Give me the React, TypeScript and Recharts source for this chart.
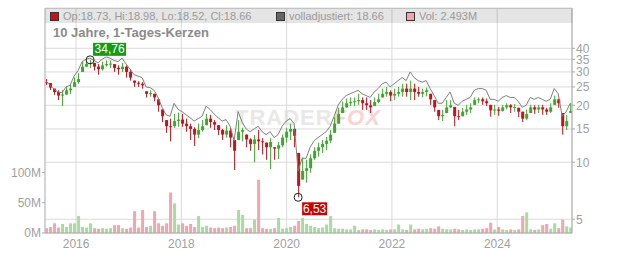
import {
  ComposedChart,
  Bar,
  Line,
  XAxis,
  YAxis,
  CartesianGrid,
  ReferenceDot,
} from "recharts";

const FONT = "'Liberation Sans', Arial, sans-serif";

// sampling grid: roughly every 4 weeks from mid 2015
const START = 2015.43;
const STEP = 0.076;

const yearTicks = [2016, 2018, 2020, 2022, 2024];
const priceTicks = [5, 10, 15, 20, 25, 30, 35, 40];
const volTicks = [0, 50, 100];

const closes = [
  26.5, 24.8, 23.5, 22.5, 22.8, 24.0, 24.5, 26.5, 27.5, 32.0,
  33.0, 33.5, 32.0, 31.0, 32.5, 33.0, 33.2, 31.5, 31.0, 32.0,
  30.0, 28.0, 26.3, 26.0, 25.5, 23.0, 23.2, 22.0, 20.0, 17.5,
  15.5, 15.5, 16.5, 16.8, 16.0, 15.5, 15.0, 14.0, 14.8, 15.5,
  17.0, 16.3, 15.8, 14.8, 14.0, 14.7, 13.5, 11.5, 14.5, 14.8,
  13.2, 12.5, 13.2, 12.9, 12.8, 12.0, 12.8, 11.8, 12.3, 13.5,
  14.5, 15.0, 13.8, 7.5, 9.0, 9.3, 10.5, 11.5, 12.0, 12.5,
  13.0, 14.0, 16.0, 18.0, 19.5, 20.5, 20.8, 21.0, 21.3, 20.5,
  20.0, 19.5, 20.8, 21.5, 23.0, 23.5, 22.5, 23.0, 23.5, 24.5,
  23.5, 24.5, 23.5, 23.0, 23.5, 24.0, 21.5, 19.5, 17.5, 17.8,
  19.5, 20.0, 17.5, 17.3, 18.5, 19.0, 19.5, 21.3, 21.5, 21.0,
  20.5, 18.8, 19.0, 18.7, 19.5, 20.0, 19.5, 19.6, 18.5, 17.0,
  18.0, 19.5, 19.0, 19.5, 19.0, 18.5, 19.5, 21.5, 20.5, 15.5,
  16.5, 18.66,
];

const lows = [
  25.6, 24.1, 22.7, 21.3, 19.8, 22.7, 23.0, 25.0, 26.0, 30.0,
  32.0, 31.5, 30.5, 29.0, 30.5, 32.0, 31.5, 30.0, 29.0, 30.0,
  28.0, 27.0, 25.0, 25.0, 24.5, 22.0, 22.2, 21.0, 18.5, 16.3,
  14.3, 12.9, 15.2, 15.4, 15.4, 14.5, 13.1, 12.2, 13.4, 14.5,
  15.7, 15.2, 14.8, 13.9, 13.1, 13.5, 12.0, 9.1, 13.1, 12.9,
  12.0, 11.5, 10.0, 11.6, 11.0, 10.3, 9.2, 10.3, 10.4, 12.0,
  12.7, 13.1, 12.0, 6.53, 8.1, 7.8, 8.8, 10.3, 10.7, 11.2,
  11.6, 12.6, 14.3, 16.0, 18.2, 19.4, 19.8, 19.8, 20.1, 18.9,
  18.9, 18.2, 19.8, 20.5, 22.0, 22.2, 21.0, 21.3, 22.2, 22.2,
  22.2, 21.3, 21.3, 22.2, 22.0, 22.3, 20.1, 18.5, 16.7, 16.5,
  18.2, 19.3, 15.5, 16.7, 17.5, 17.8, 18.2, 20.1, 20.5, 20.1,
  19.8, 17.4, 17.8, 17.6, 18.5, 19.0, 18.2, 18.5, 17.3, 16.3,
  16.7, 18.2, 18.0, 18.2, 17.8, 17.8, 18.2, 20.1, 19.4, 14.0,
  14.8, 18.2,
];

const highs = [
  27.5, 26.2, 24.5, 24.0, 24.0, 25.3, 25.6, 28.0, 29.5, 34.0,
  34.5, 34.76, 33.5, 33.0, 34.0, 34.5, 34.5, 33.0, 32.5, 33.5,
  32.5, 31.0, 27.0, 26.8, 26.5, 23.7, 24.0, 23.0, 21.5, 19.0,
  16.7, 17.0, 18.0, 18.3, 18.0, 17.0, 16.0, 15.3, 16.0, 16.7,
  18.0, 17.8, 16.7, 15.7, 15.0, 15.7, 15.2, 13.1, 16.7, 15.2,
  14.0, 13.4, 13.9, 14.8, 13.4, 12.7, 13.4, 12.0, 12.8, 14.0,
  15.2, 16.0, 15.2, 11.2, 10.6, 10.3, 11.0, 12.0, 12.7, 13.1,
  13.6, 14.8, 17.3, 19.4, 20.9, 21.7, 22.0, 22.0, 23.0, 22.0,
  22.0, 21.3, 22.0, 23.0, 24.5, 25.0, 24.0, 24.5, 25.0, 26.0,
  26.0, 27.0, 26.0, 25.0, 24.5, 24.8, 23.0, 21.3, 18.9, 18.9,
  21.3, 21.3, 19.6, 18.9, 19.4, 20.1, 20.5, 22.0, 22.0, 22.0,
  21.7, 20.1, 20.1, 19.6, 20.1, 20.5, 20.3, 20.3, 19.4, 18.5,
  19.0, 20.1, 20.0, 20.1, 20.1, 19.4, 20.5, 22.5, 21.7, 18.2,
  17.8, 20.5,
];

// "volladjustiert" line
const adjusted = [
  26.8, 25.5, 24.3, 23.5, 23.3, 25.0, 25.5, 28.5, 30.5, 34.0,
  35.0, 35.5, 34.5, 33.5, 35.0, 36.0, 35.5, 34.5, 34.0, 35.5,
  33.0, 31.0, 29.0, 28.5, 28.0, 25.0, 24.8, 24.0, 22.0, 19.5,
  17.8, 17.5, 20.5, 19.0, 18.5, 17.8, 17.2, 16.5, 17.0, 17.5,
  19.8, 19.0, 18.0, 17.2, 16.5, 16.8, 15.5, 13.0, 18.5, 16.3,
  15.0, 14.5, 15.0, 15.5, 14.5, 14.0, 14.5, 13.5, 14.0, 15.5,
  16.5, 17.0, 16.0, 9.0, 10.5, 10.5, 12.0, 13.0, 13.5, 14.0,
  14.5, 15.5, 17.5, 20.0, 21.5, 22.5, 23.0, 23.5, 24.0, 23.0,
  22.5, 22.0, 23.5, 24.5, 26.0, 26.5, 25.0, 26.0, 27.0, 28.0,
  27.0, 30.0, 28.0, 27.0, 26.5, 27.0, 24.5, 22.5, 20.5, 20.5,
  22.0, 23.5, 20.5, 20.0, 21.0, 21.5, 22.0, 24.0, 24.5, 24.5,
  24.0, 21.5, 21.5, 21.0, 22.0, 22.5, 22.0, 22.0, 21.0, 19.5,
  20.0, 22.0, 21.5, 22.0, 21.5, 21.0, 21.5, 24.5, 23.0, 17.5,
  18.5, 20.5,
];

// volume in millions
const volumes = [
  8, 10, 16, 9, 15, 10, 16, 16, 28, 10,
  9, 16, 8, 7, 8, 7, 8, 13, 13, 8,
  7, 9, 36, 9, 38, 10, 12, 36, 16, 12,
  16, 67, 49, 14, 16, 12, 15, 10, 28, 10,
  12, 9, 8, 9, 8, 9, 10, 12, 38, 30,
  8, 8, 22, 88, 8, 7, 7, 8, 25, 7,
  8, 10, 12, 20, 25, 15, 12, 10, 8, 9,
  14, 28, 8, 7, 7, 6, 6, 12, 5, 6,
  6, 5, 6, 5, 6, 5, 6, 6, 14, 6,
  5, 14, 6, 7, 6, 7, 8, 7, 11, 7,
  6, 6, 7, 6, 5, 6, 5, 6, 6, 7,
  8, 17, 6, 10, 6, 5, 6, 5, 6, 28,
  34, 6, 5, 6, 13, 15, 7, 16, 8, 22,
  11, 9,
];

const lastQuote = { op: "18.73", hi: "18.98", lo: "18.52", cl: "18.66" };
const lastAdjusted = "18.66";
const lastVolume = "2.493M";

const RED = "#c4121c";
const GREEN = "#3fa72f";
const VOL_DOWN = "#f3a5ad";
const VOL_UP = "#a8dba0";

const data = closes.map((c, i) => {
  const open = i > 0 ? closes[i - 1] : c;
  return {
    t: START + i * STEP,
    range: [lows[i], highs[i]],
    open,
    close: c,
    adj: adjusted[i],
    vol: volumes[i],
    up: c > open,
  };
});

let hiIdx = 0;
let loIdx = 0;
highs.forEach((h, i) => {
  if (h > highs[hiIdx]) hiIdx = i;
});
lows.forEach((l, i) => {
  if (l < lows[loIdx]) loIdx = i;
});

const fmt = (v: number) => v.toFixed(2).replace(".", ",");

function Candle(props: any) {
  const { x, y, width, height, payload } = props;
  if (!payload || height == null) return null;
  const [l, h] = payload.range;
  const toY = (v: number) =>
    y + (height * (Math.log(h) - Math.log(v))) / (Math.log(h) - Math.log(l));
  const color = payload.up ? GREEN : RED;
  const top = toY(Math.min(h, Math.max(payload.open, payload.close)));
  const bot = toY(Math.max(l, Math.min(payload.open, payload.close)));
  const cx = x + width / 2;
  return (
    <g>
      <line x1={cx} x2={cx} y1={y} y2={y + height} stroke={color} strokeWidth={1} />
      <rect x={x} y={top} width={width} height={Math.max(1, bot - top)} fill={color} />
    </g>
  );
}

function VolBar(props: any) {
  const { x, y, width, height, payload } = props;
  if (!payload || !height) return null;
  return <rect x={x} y={y} width={width} height={height} fill={payload.up ? VOL_UP : VOL_DOWN} />;
}

function HighMark(props: any) {
  const { cx, cy } = props;
  return (
    <g>
      <circle cx={cx} cy={cy} r={4} fill="none" stroke="#222" strokeWidth={1} />
      <rect x={cx + 3} y={cy - 17} width={33} height={13} fill="#159a15" />
      <text x={cx + 19.5} y={cy - 6.5} textAnchor="middle" fill="#fff" fontSize={12} fontFamily={FONT}>
        {fmt(highs[hiIdx])}
      </text>
    </g>
  );
}

function LowMark(props: any) {
  const { cx, cy } = props;
  return (
    <g>
      <circle cx={cx} cy={cy} r={4} fill="none" stroke="#222" strokeWidth={1} />
      <rect x={cx + 4} y={cy + 5} width={25} height={13} fill="#cc0000" />
      <text x={cx + 16.5} y={cy + 15.5} textAnchor="middle" fill="#fff" fontSize={12} fontFamily={FONT}>
        {fmt(lows[loIdx])}
      </text>
    </g>
  );
}

const tickStyle = { fill: "#a0a0a0", fontSize: 12, fontFamily: FONT };

function Swatch({ color }: { color: string }) {
  return (
    <span
      style={{
        display: "inline-block",
        width: 7,
        height: 7,
        background: color,
        border: "1px solid #333",
        marginRight: 4,
      }}
    />
  );
}

export default function App() {
  return (
    <div
      style={{
        position: "absolute",
        left: 0,
        top: 0,
        width: 632,
        height: 253,
        background: "#fff",
        fontFamily: FONT,
        overflow: "hidden",
      }}
    >
      <div
        style={{
          position: "absolute",
          left: 235,
          top: 106,
          fontSize: 22,
          fontWeight: "bold",
          letterSpacing: 1,
          lineHeight: "24px",
          whiteSpace: "nowrap",
        }}
      >
        <span style={{ color: "#e8e8e8" }}>TRADER</span>
        <span style={{ color: "#fad3d3", fontStyle: "italic" }}>FOX</span>
      </div>
      <div style={{ position: "absolute", left: 0, top: 0 }}>
        <ComposedChart
          width={632}
          height={253}
          data={data}
          margin={{ top: 8, right: 0, bottom: 0, left: 8 }}
          style={{ fontFamily: FONT }}
        >
          <CartesianGrid stroke="#dadada" yAxisId="price" />
          <XAxis
            dataKey="t"
            type="number"
            domain={[2015.41, 2025.42]}
            allowDataOverflow
            ticks={yearTicks}
            interval={0}
            tickLine={false}
            tickSize={4}
            tickMargin={2}
            axisLine={{ stroke: "#aaa" }}
            tick={tickStyle}
            height={20}
          />
          <XAxis
            xAxisId="vol"
            dataKey="t"
            type="number"
            domain={[2015.41, 2025.42]}
            allowDataOverflow
            hide
          />
          <YAxis
            yAxisId="vol"
            orientation="left"
            domain={[0, 372]}
            ticks={volTicks}
            interval={0}
            tickFormatter={(v) => `${v}M`}
            width={37}
            tickSize={3}
            tickMargin={1}
            axisLine={{ stroke: "#bbb" }}
            tickLine={{ stroke: "#aaa" }}
            tick={tickStyle}
          />
          <YAxis
            yAxisId="price"
            orientation="right"
            scale="log"
            domain={[4.23, 65.3]}
            allowDataOverflow
            ticks={priceTicks}
            interval={0}
            width={60}
            tickSize={3}
            tickMargin={1}
            axisLine={{ stroke: "#aaa" }}
            tickLine={{ stroke: "#aaa" }}
            tick={tickStyle}
          />
          <Bar
            xAxisId="vol"
            yAxisId="vol"
            dataKey="vol"
            barSize={3}
            shape={<VolBar />}
            isAnimationActive={false}
          />
          <Line
            yAxisId="price"
            dataKey="adj"
            type="linear"
            stroke="#808080"
            strokeWidth={1}
            dot={false}
            isAnimationActive={false}
          />
          <Bar
            yAxisId="price"
            dataKey="range"
            barSize={3}
            shape={<Candle />}
            isAnimationActive={false}
          />
          <ReferenceDot
            yAxisId="price"
            x={data[hiIdx].t}
            y={highs[hiIdx]}
            r={4}
            shape={(p: any) => <HighMark {...p} />}
          />
          <ReferenceDot
            yAxisId="price"
            x={data[loIdx].t}
            y={lows[loIdx]}
            r={4}
            shape={(p: any) => <LowMark {...p} />}
          />
        </ComposedChart>
      </div>
      <div
        style={{
          position: "absolute",
          left: 45,
          top: 8,
          width: 528,
          height: 15,
          boxSizing: "border-box",
          background: "rgba(0,0,0,0.1)",
          border: "1px solid #c2c2c2",
          borderBottom: "none",
          fontSize: 11,
          color: "#999",
          lineHeight: "13px",
          whiteSpace: "nowrap",
        }}
      >
        <div style={{ position: "absolute", left: 4, top: 1, display: "flex", alignItems: "center" }}>
          <Swatch color={RED} />
          <span>
            Op:{lastQuote.op}, Hi:{lastQuote.hi}, Lo:{lastQuote.lo}, Cl:{lastQuote.cl}
          </span>
        </div>
        <div style={{ position: "absolute", left: 230, top: 1, display: "flex", alignItems: "center" }}>
          <Swatch color="#666" />
          <span>volladjustiert: {lastAdjusted}</span>
        </div>
        <div style={{ position: "absolute", left: 360, top: 1, display: "flex", alignItems: "center" }}>
          <Swatch color={VOL_DOWN} />
          <span>Vol: {lastVolume}</span>
        </div>
      </div>
      <div
        style={{
          position: "absolute",
          left: 53,
          top: 26,
          fontSize: 13,
          fontWeight: "bold",
          color: "#8a8a8a",
          lineHeight: "14px",
          whiteSpace: "nowrap",
        }}
      >
        10 Jahre, 1-Tages-Kerzen
      </div>
    </div>
  );
}
